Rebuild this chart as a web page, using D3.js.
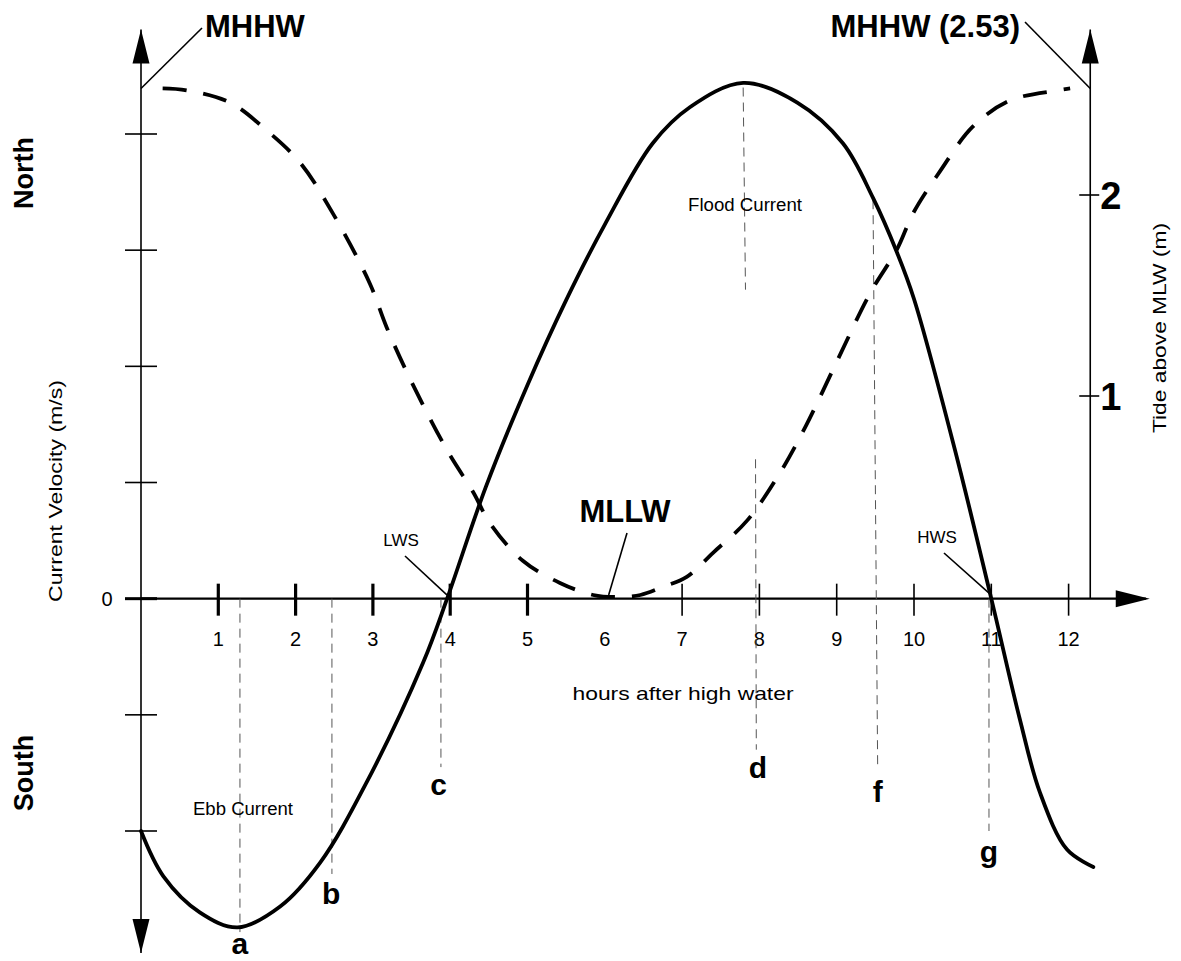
<!DOCTYPE html>
<html>
<head>
<meta charset="utf-8">
<script src="https://cdn.jsdelivr.net/npm/d3@7"></script>
<style>
  body { margin: 0; background: #fff; }
  svg { display: block; }
  text { font-family: "Liberation Sans", Arial, sans-serif; fill: #000; }
</style>
</head>
<body>
<div id="chart"></div>
<script>
// tick values
var hourTicks = [1, 2, 3, 4, 5, 6, 7, 8, 9, 10, 11, 12];
var velTicks = [-2, -1, 0, 1, 2, 3, 4];
var tideTicks = [1, 2];

// current velocity (left axis units) vs hours after high water
var currentHours = [0, 0.29, 0.76, 1.25, 1.8, 2.32, 2.92, 3.65, 3.96, 4.46, 5.0, 5.5, 6.0, 6.62, 7.1, 7.79, 8.49, 9.08, 9.47, 9.78, 10.0, 10.53, 11.0, 11.37, 11.63, 11.98, 12.32];
var currentVel = [-2.0, -2.39, -2.70, -2.83, -2.65, -2.27, -1.58, -0.55, 0, 0.96, 1.84, 2.57, 3.22, 3.92, 4.23, 4.44, 4.27, 3.92, 3.45, 2.98, 2.58, 1.28, 0, -1.04, -1.67, -2.16, -2.31];

// tide above MLW (m)
var tideHours = [0.28, 0.6, 1.15, 1.63, 2.06, 2.48, 2.96, 3.18, 3.5, 3.96, 4.3, 4.51, 4.94, 5.42, 5.85, 6.16, 6.46, 6.75, 7.06, 7.4, 7.84, 8.27, 8.6, 9.0, 9.43, 9.78, 9.99, 10.34, 10.76, 11.24, 11.85, 12.02];
var tideLevel = [2.53, 2.52, 2.46, 2.32, 2.16, 1.91, 1.56, 1.34, 1.07, 0.73, 0.52, 0.37, 0.18, 0.07, 0.01, 0, 0.01, 0.05, 0.1, 0.22, 0.38, 0.62, 0.85, 1.17, 1.51, 1.73, 1.91, 2.12, 2.34, 2.47, 2.52, 2.53];

var mhhw = 2.53;

// lettered reference lines: [label, hTop, vTop, hBottom, vBottom]
var markerLines = [
  ["a", 1.28, 0, 1.28, -2.87],
  ["b", 2.47, 0, 2.47, -2.37],
  ["c", 3.88, 0, 3.88, -1.45],
  ["d", 7.79, 4.40, 7.82, 2.66],
  ["d", 7.95, 1.20, 7.96, -1.30],
  ["f", 9.47, 3.43, 9.53, -1.45],
  ["g", 10.97, 0, 10.97, -2.0]
];
// letter positions: [label, hour, velocity (baseline)]
var markerLetters = [
  ["a", 1.28, -3.06],
  ["b", 2.46, -2.63],
  ["c", 3.85, -1.69],
  ["d", 7.98, -1.54],
  ["f", 9.53, -1.75],
  ["g", 10.97, -2.27]
];

var W = 1181, H = 961;
var svg = d3.select("#chart").append("svg").attr("width", W).attr("height", H);
svg.append("rect").attr("width", W).attr("height", H).attr("fill", "#fff");

var x = d3.scaleLinear().domain([0, 12]).range([141, 1068.6]);
var yV = d3.scaleLinear().domain([-2, 4]).range([831, 134]);
var yT = d3.scaleLinear().domain([0, 2]).range([597, 195]);

var rightAxisHour = 12.28;

// arrowhead helper
function arrow(cx, cy, dir) {
  var L = 34, hw = 8.5, p;
  if (dir === "up") p = [[cx, cy], [cx - hw, cy + L], [cx + hw, cy + L]];
  if (dir === "down") p = [[cx, cy], [cx - hw, cy - L], [cx + hw, cy - L]];
  if (dir === "right") p = [[cx, cy], [cx - L, cy - hw], [cx - L, cy + hw]];
  svg.append("polygon").attr("points", p.map(function(d) { return d.join(","); }).join(" ")).attr("fill", "#000");
}

// left axis
svg.append("line").attr("x1", x(0)).attr("x2", x(0)).attr("y1", yV(4.9)).attr("y2", yV(-3.05))
  .attr("stroke", "#000").attr("stroke-width", 1.6);
arrow(x(0), yV(4.9), "up");
arrow(x(0), yV(-3.05), "down");
svg.selectAll(".vtick").data(velTicks).enter().append("line")
  .attr("x1", x(0) - 16).attr("x2", x(0) + 16)
  .attr("y1", function(d) { return yV(d); }).attr("y2", function(d) { return yV(d); })
  .attr("stroke", "#000").attr("stroke-width", function(d) { return d === 0 ? 3 : 1.6; });
svg.append("text").attr("x", x(0) - 34).attr("y", yV(0)).attr("dy", "0.36em")
  .attr("text-anchor", "middle").attr("font-size", 20).text("0");

// horizontal axis
svg.append("line").attr("x1", x(0)).attr("x2", x(13.0)).attr("y1", yV(0)).attr("y2", yV(0))
  .attr("stroke", "#000").attr("stroke-width", 2.2);
arrow(x(13.05), yV(0), "right");
svg.selectAll(".htick").data(hourTicks.filter(function(d) { return d !== 6; })).enter().append("line")
  .attr("x1", function(d) { return x(d); }).attr("x2", function(d) { return x(d); })
  .attr("y1", yV(0) - 15).attr("y2", yV(0) + 17)
  .attr("stroke", "#000").attr("stroke-width", function(d) { return d <= 5 ? 3.2 : 1.6; });
svg.selectAll(".hlab").data(hourTicks).enter().append("text")
  .attr("x", function(d) { return x(d); }).attr("y", 646)
  .attr("text-anchor", "middle").attr("font-size", 20).text(function(d) { return d; });
svg.append("text").attr("x", 683).attr("y", 700).attr("text-anchor", "middle")
  .attr("font-size", 19).attr("textLength", 221).attr("lengthAdjust", "spacingAndGlyphs")
  .text("hours after high water");

// right axis (tide)
svg.append("line").attr("x1", x(rightAxisHour)).attr("x2", x(rightAxisHour))
  .attr("y1", yV(4.9)).attr("y2", yV(0)).attr("stroke", "#000").attr("stroke-width", 1.6);
arrow(x(rightAxisHour), yV(4.9), "up");
svg.selectAll(".ttick").data(tideTicks).enter().append("line")
  .attr("x1", x(rightAxisHour) - 11).attr("x2", x(rightAxisHour) + 9)
  .attr("y1", function(d) { return yT(d); }).attr("y2", function(d) { return yT(d); })
  .attr("stroke", "#000").attr("stroke-width", 1.6);
svg.selectAll(".tlab").data(tideTicks).enter().append("text")
  .attr("x", x(rightAxisHour) + 10).attr("y", function(d) { return yT(d) + 14; })
  .attr("font-size", 38).attr("font-weight", "bold").text(function(d) { return d; });

// axis titles
function vtext(tx, ty, str, size, weight, len) {
  var t = svg.append("text").attr("transform", "translate(" + tx + "," + ty + ") rotate(-90)")
    .attr("text-anchor", "middle").attr("font-size", size).attr("font-weight", weight).text(str);
  if (len) t.attr("textLength", len).attr("lengthAdjust", "spacingAndGlyphs");
}
vtext(33, 173, "North", 27, "bold");
vtext(33, 773, "South", 27, "bold");
vtext(62, 491, "Current Velocity (m/s)", 19, "normal", 222);
vtext(1166, 328, "Tide above MLW (m)", 18, "normal", 210);

// lettered reference lines
svg.selectAll(".mline").data(markerLines).enter().append("line")
  .attr("x1", function(d) { return x(d[1]); }).attr("y1", function(d) { return yV(d[2]); })
  .attr("x2", function(d) { return x(d[3]); }).attr("y2", function(d) { return yV(d[4]); })
  .attr("stroke", "#555").attr("stroke-width", 1).attr("stroke-dasharray", "9,6");
svg.selectAll(".mlet").data(markerLetters).enter().append("text")
  .attr("x", function(d) { return x(d[1]); }).attr("y", function(d) { return yV(d[2]); })
  .attr("text-anchor", "middle").attr("font-size", 30).attr("font-weight", "bold")
  .text(function(d) { return d[0]; });

// current text labels
svg.append("text").attr("x", 745).attr("y", 211).attr("text-anchor", "middle")
  .attr("font-size", 18).attr("textLength", 114).attr("lengthAdjust", "spacingAndGlyphs").text("Flood Current");
svg.append("text").attr("x", 243).attr("y", 815).attr("text-anchor", "middle")
  .attr("font-size", 18).attr("textLength", 100).attr("lengthAdjust", "spacingAndGlyphs").text("Ebb Current");

// tide curve (dashed)
var tideLine = d3.line().curve(d3.curveCatmullRom.alpha(0.5))
  .x(function(d) { return x(d[0]); }).y(function(d) { return yT(d[1]); });
svg.append("path").datum(d3.zip(tideHours, tideLevel)).attr("d", tideLine)
  .attr("fill", "none").attr("stroke", "#000").attr("stroke-width", 3.8)
  .attr("stroke-dasharray", "24,17");

// current curve (solid)
var curLine = d3.line().curve(d3.curveCatmullRom.alpha(0.5))
  .x(function(d) { return x(d[0]); }).y(function(d) { return yV(d[1]); });
svg.append("path").datum(d3.zip(currentHours, currentVel)).attr("d", curLine)
  .attr("fill", "none").attr("stroke", "#000").attr("stroke-width", 3.8)
  .attr("stroke-linejoin", "round").attr("stroke-linecap", "round");

// annotations with leader lines
function leader(x1, y1, x2, y2) {
  svg.append("line").attr("x1", x1).attr("y1", y1).attr("x2", x2).attr("y2", y2)
    .attr("stroke", "#000").attr("stroke-width", 1.6);
}
leader(x(0), yT(mhhw), 202, 28);
svg.append("text").attr("x", 205).attr("y", 37).attr("font-size", 31).attr("font-weight", "bold").text("MHHW");
leader(x(rightAxisHour), yT(mhhw), 1025, 22);
svg.append("text").attr("x", 1020).attr("y", 37).attr("text-anchor", "end")
  .attr("font-size", 31).attr("font-weight", "bold").text("MHHW (2.53)");
leader(x(6.05), yT(0.01), 627, 533);
svg.append("text").attr("x", 625).attr("y", 522).attr("text-anchor", "middle")
  .attr("font-size", 31).attr("font-weight", "bold").text("MLLW");
leader(x(3.96), yV(0.03), 405, 556);
svg.append("text").attr("x", 401).attr("y", 546).attr("text-anchor", "middle")
  .attr("font-size", 17).text("LWS");
leader(x(11.0), yV(0.03), 944, 553);
svg.append("text").attr("x", 937).attr("y", 543).attr("text-anchor", "middle")
  .attr("font-size", 17).text("HWS");
</script>
</body>
</html>
